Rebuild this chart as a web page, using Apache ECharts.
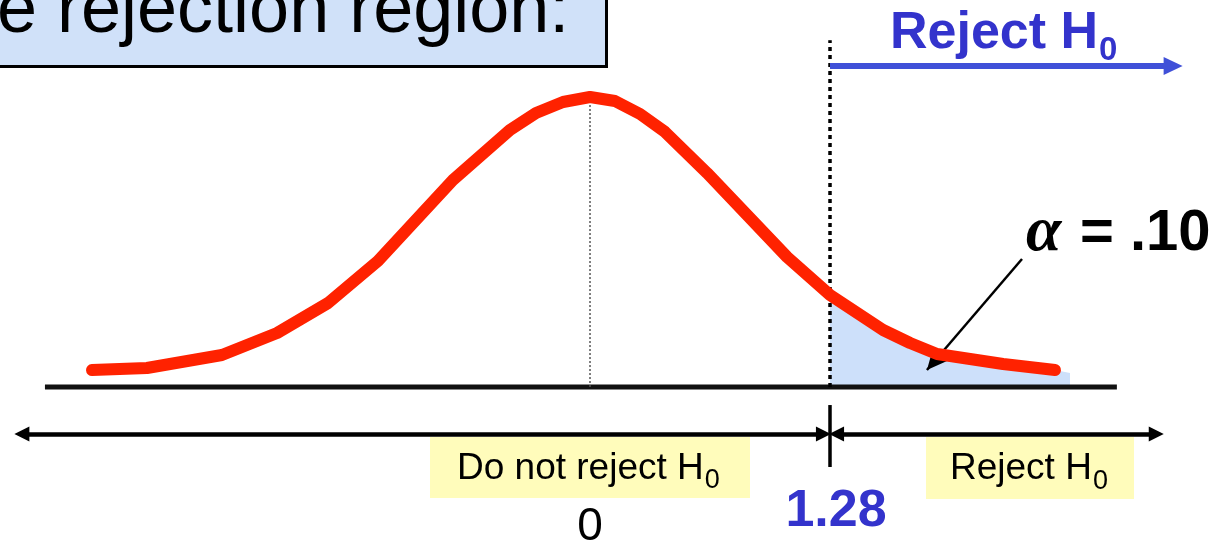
<!DOCTYPE html>
<html>
<head>
<meta charset="utf-8">
<script src="https://cdn.jsdelivr.net/npm/echarts@6/dist/echarts.min.js"></script>
<style>
  html, body { margin: 0; padding: 0; background: #fff; }
  #chart { width: 1226px; height: 541px; }
</style>
</head>
<body>
<div id="chart"></div>
<script>
// bell curve as (z, height) pairs
const curveZ = [-2.656, -2.363, -1.963, -1.669, -1.397, -1.131, -0.731, -0.427, -0.288, -0.144, 0, 0.133, 0.267, 0.4, 0.624, 1.051, 1.28, 1.563, 1.707, 1.851, 2.203, 2.48]
const curveY = [0.0234, 0.0261, 0.044, 0.0743, 0.1155, 0.1733, 0.2847, 0.3535, 0.3769, 0.392, 0.3989, 0.3934, 0.3755, 0.3508, 0.2944, 0.1788, 0.1265, 0.0784, 0.0605, 0.0454, 0.0316, 0.0234]
// shaded tail runs a bit past the end of the curve
const tailZ = [2.56]
const tailY = [0.0193]
const critical = 1.28
const baseRange = [-2.907, 2.81]
const arrowRange = [-3.03, 3.02]
const tickLabels = ['0', '1.28']
const alphaLabel = ['α', '= .10']
const regionLabels = ['Do not reject H', 'Reject H']

const SANS = '"Liberation Sans", Arial, sans-serif'
const red = '#ff2200'
const blue = '#3333cc'

const chart = echarts.init(document.getElementById('chart'))

const shade = curveZ.map((z, i) => [z, curveY[i]]).filter(p => p[0] >= critical)
  .concat(tailZ.map((z, i) => [z, tailY[i]]))

function seg(a, b, style, symbols, size) {
  return {
    type: 'line', data: [], silent: true,
    markLine: {
      silent: true, animation: false,
      symbol: symbols || ['none', 'none'],
      symbolSize: size || 10,
      label: { show: false },
      lineStyle: Object.assign({ type: 'solid' }, style),
      data: [[{ coord: a }, { coord: b }]]
    }
  }
}

const yTop = 0.4415   // level of the "Reject H0" arrow
const yArrow = -0.0647 // level of the lower arrows
const peak = Math.max(...curveY)

chart.setOption({
  animation: false,
  grid: { left: 0, right: 0, top: 0, bottom: 0 },
  xAxis: { type: 'value', min: -3.1467, max: 3.392, show: false },
  yAxis: { type: 'value', min: -0.2118, max: 0.5323, show: false },
  series: [
    {
      type: 'line', data: shade, showSymbol: false, silent: true,
      lineStyle: { width: 0 },
      areaStyle: { color: '#cde0fa', opacity: 1 }
    },
    {
      type: 'line', data: baseRange.map(z => [z, 0]), showSymbol: false, silent: true,
      lineStyle: { color: '#111', width: 5 }
    },
    {
      type: 'line', data: [[0, 0], [0, peak]], showSymbol: false, silent: true,
      lineStyle: { color: '#555', width: 1.5, type: [2, 2] }
    },
    {
      type: 'line', data: [[critical, 0], [critical, 0.477]], showSymbol: false, silent: true,
      lineStyle: { color: '#000', width: 3.5, type: [4, 4] }
    },
    {
      type: 'line', data: curveZ.map((z, i) => [z, curveY[i]]), showSymbol: false, silent: true,
      z: 5,
      lineStyle: { color: red, width: 12, cap: 'round', join: 'round' }
    },
    seg([critical, yTop], [3.11, yTop], { color: '#4050d8', width: 6 }, ['none', 'triangle'], [18, 19]),
    seg([arrowRange[0], yArrow], [critical - 0.035, yArrow], { color: '#000', width: 4.5 }, ['triangle', 'triangle'], [15, 15]),
    seg([critical + 0.035, yArrow], [arrowRange[1], yArrow], { color: '#000', width: 4.5 }, ['triangle', 'triangle'], [15, 15]),
    seg([critical, -0.0248], [critical, -0.11], { color: '#000', width: 3.5 }),
    seg([2.304, 0.176], [1.797, 0.0234], { color: '#000', width: 2.5 }, ['none', 'arrow'], [14, 20])
  ]
})

// labels, placed from the chart's own scale
const ctx = document.createElement('canvas').getContext('2d')
function textW(str, font) { ctx.font = font; return ctx.measureText(str).width }
function px(z) { return chart.convertToPixel({ xAxisIndex: 0, yAxisIndex: 0 }, [z, 0])[0] }

function txt(text, x, y, font, fill, align) {
  return {
    type: 'text', z: 20, silent: true,
    style: { text, x, y, font, fill: fill || '#000', align: align || 'left', verticalAlign: 'middle' }
  }
}

function subLabel(main, x, yMain, ySub, size, subSize, weight, fill) {
  const f = `${weight} ${size}px ${SANS}`
  const w = textW(main, f)
  return [
    txt(main, x, yMain, f, fill),
    txt('0', x + w + 1, ySub, `${weight} ${subSize}px ${SANS}`, fill)
  ]
}

chart.setOption({
  graphic: [
    {
      type: 'rect', z: 10, silent: true,
      shape: { x: -10, y: -10, width: 616.5, height: 76.5 },
      style: { fill: '#d0e1f9', stroke: '#000', lineWidth: 3 }
    },
    txt('e rejection region:', -3, 12, `72px ${SANS}`),
    ...subLabel('Reject H', 890, 34, 50.5, 52, 33, 'bold', blue),
    { type: 'rect', z: 10, silent: true, shape: { x: 430, y: 437, width: 320, height: 61 }, style: { fill: '#fffcbb' } },
    { type: 'rect', z: 10, silent: true, shape: { x: 926, y: 437, width: 208, height: 62 }, style: { fill: '#fffcbb' } },
    ...subLabel(regionLabels[0], 457, 469, 480.5, 37, 27, 'normal', '#000'),
    ...subLabel(regionLabels[1], 950, 469, 481.5, 37, 27, 'normal', '#000'),
    txt(tickLabels[0], px(0), 527, `46px ${SANS}`, '#000', 'center'),
    txt(tickLabels[1], px(critical) + 6, 512, `bold 52px ${SANS}`, blue, 'center'),
    txt(alphaLabel[0], 1026, 233, 'bold italic 64px "Liberation Serif", serif', '#000'),
    txt(alphaLabel[1], 1080, 234, `bold 58px ${SANS}`, '#000')
  ]
})
</script>
</body>
</html>
